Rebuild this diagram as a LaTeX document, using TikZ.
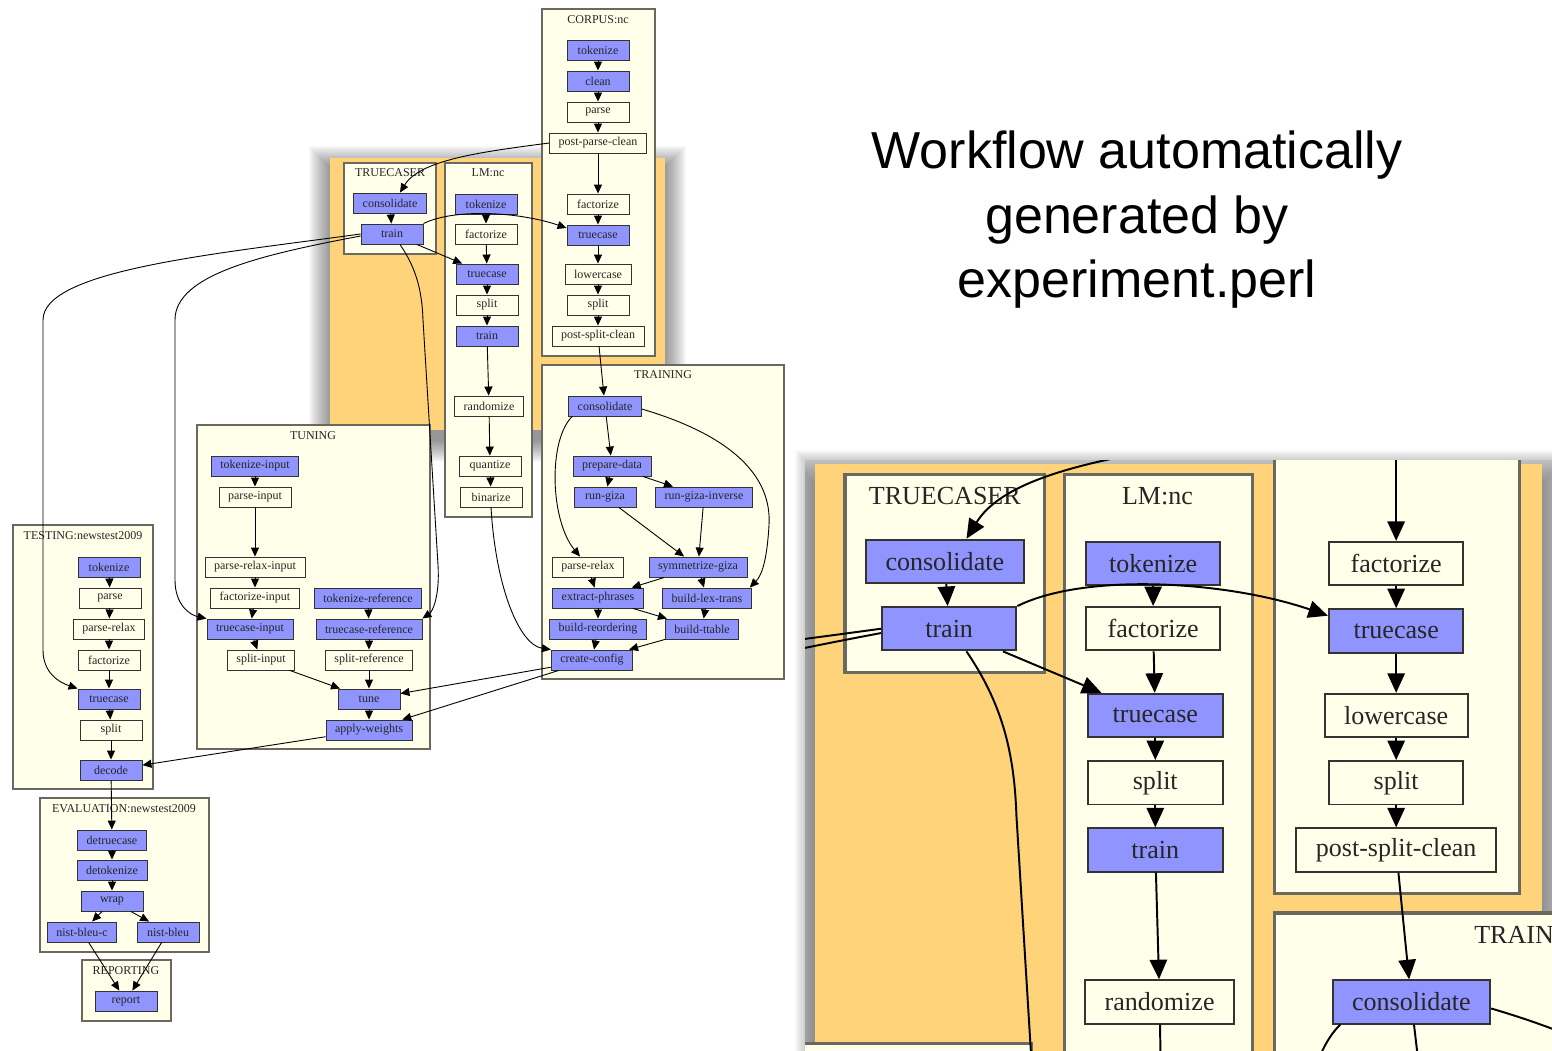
\documentclass[tikz,border=0pt]{standalone}
\usepackage{fontspec}
\setmainfont{Liberation Serif}
\newfontfamily\titlefont{Liberation Sans}
\usetikzlibrary{arrows.meta,spy}

\definecolor{stepblue}{RGB}{143,148,255}
\definecolor{clustercream}{RGB}{255,255,234}
\definecolor{clusterline}{RGB}{105,105,95}
\definecolor{hilite}{RGB}{254,211,122}

\tikzset{
	cluster/.style={draw=clusterline, line width=1.4pt, fill=clustercream},
	clusterlabel/.style={inner sep=0pt, text=black!85, font=\fontsize{12}{13}\selectfont},
	task/.style={draw=black!80, line width=0.9pt, fill=clustercream, minimum height=20pt, text=black!85,
		minimum width=62pt, inner xsep=9pt, inner ysep=0pt, font=\fontsize{12}{13}\selectfont},
	donetask/.style={task, fill=stepblue},
	flow/.style={-{Triangle[length=9pt,width=8pt]}, line width=0.9pt}
}

\begin{document}
\begin{tikzpicture}[x=1pt, y=-1pt, spy scope={rectangle, magnification=2.17, width=747pt, height=590pt}]
		\useasboundingbox (0, 0) rectangle (1552, 1050);

		% highlighted part of the graph
		\foreach \r in {1, ..., 22} \fill[black, opacity=0.022] (331-\r, 168-\r) rectangle (664+\r, 440+\r);
		\fill[hilite] (330, 158) rectangle (665, 430);

		\draw[cluster] (542, 9) rectangle (655, 356);
		\draw[cluster] (344, 163) rectangle (436, 254);
		\draw[cluster] (445, 163) rectangle (532, 517);
		\draw[cluster] (542, 365) rectangle (784, 679);
		\draw[cluster] (197, 425) rectangle (430, 749);
		\draw[cluster] (13, 525) rectangle (153, 789);
		\draw[cluster] (40, 798) rectangle (209, 952);
		\draw[cluster] (82, 960) rectangle (171, 1021);
		\node[clusterlabel] (corpus) at (598, 20) {CORPUS:nc};
		\node[clusterlabel] (truecaser) at (390, 173) {TRUECASER};
		\node[clusterlabel] (lm) at (488, 173) {LM:nc};
		\node[clusterlabel] (training) at (663, 375) {TRAINING};
		\node[clusterlabel] (tuning) at (313, 436) {TUNING};
		\node[clusterlabel] (testing) at (83, 536) {TESTING:newstest2009};
		\node[clusterlabel] (evaluation) at (124, 809) {EVALUATION:newstest2009};
		\node[clusterlabel] (reporting) at (126, 971) {REPORTING};

		\node[donetask] (c-tok) at (598, 50) {tokenize};
		\node[donetask] (c-clean) at (598, 81) {clean};
		\node[task] (c-parse) at (598, 112) {parse};
		\node[task] (c-ppc) at (598, 143) {post-parse-clean};
		\node[task] (c-fac) at (598, 204) {factorize};
		\node[donetask] (c-tc) at (598, 235) {truecase};
		\node[task] (c-lc) at (598, 274) {lowercase};
		\node[task] (c-split) at (598, 305) {split};
		\node[task] (c-psc) at (598, 336) {post-split-clean};

		\node[donetask] (t-cons) at (390, 203) {consolidate};
		\node[donetask] (t-train) at (392, 234) {train};

		\node[donetask] (lm-tok) at (486, 204) {tokenize};
		\node[task] (lm-fac) at (486, 234) {factorize};
		\node[donetask] (lm-tc) at (487, 274) {truecase};
		\node[task] (lm-split) at (487, 305) {split};
		\node[donetask] (lm-train) at (487, 336) {train};
		\node[task] (lm-rand) at (489, 406) {randomize};
		\node[task] (lm-quant) at (490, 466) {quantize};
		\node[task] (lm-bin) at (491, 497) {binarize};

		\node[donetask] (tr-cons) at (605, 406) {consolidate};
		\node[donetask] (tr-prep) at (612, 466) {prepare-data};
		\node[donetask] (tr-giza) at (605, 497) {run-giza};
		\node[donetask] (tr-gizainv) at (704, 497) {run-giza-inverse};
		\node[task] (tr-relax) at (588, 567) {parse-relax};
		\node[donetask] (tr-sym) at (698, 567) {symmetrize-giza};
		\node[donetask] (tr-extract) at (598, 598) {extract-phrases};
		\node[donetask] (tr-lex) at (707, 598) {build-lex-trans};
		\node[donetask] (tr-reord) at (598, 629) {build-reordering};
		\node[donetask] (tr-ttable) at (702, 629) {build-ttable};
		\node[donetask] (tr-config) at (592, 660) {create-config};

		\node[donetask] (tu-tokin) at (255, 466) {tokenize-input};
		\node[task] (tu-parsein) at (255, 497) {parse-input};
		\node[task] (tu-relaxin) at (255, 567) {parse-relax-input};
		\node[task] (tu-facin) at (255, 598) {factorize-input};
		\node[donetask] (tu-tcin) at (250, 629) {truecase-input};
		\node[task] (tu-splitin) at (261, 660) {split-input};
		\node[donetask] (tu-tokref) at (368, 598) {tokenize-reference};
		\node[donetask] (tu-tcref) at (369, 629) {truecase-reference};
		\node[task] (tu-splitref) at (369, 660) {split-reference};
		\node[donetask] (tu-tune) at (369, 699) {tune};
		\node[donetask] (tu-weights) at (369, 730) {apply-weights};

		\node[donetask] (te-tok) at (109, 567) {tokenize};
		\node[task] (te-parse) at (110, 598) {parse};
		\node[task] (te-relax) at (109, 629) {parse-relax};
		\node[task] (te-fac) at (109, 660) {factorize};
		\node[donetask] (te-tc) at (109, 699) {truecase};
		\node[task] (te-split) at (111, 730) {split};
		\node[donetask] (te-decode) at (111, 770) {decode};

		\node[donetask] (ev-detc) at (112, 840) {detruecase};
		\node[donetask] (ev-detok) at (112, 870) {detokenize};
		\node[donetask] (ev-wrap) at (112, 901) {wrap};
		\node[donetask] (ev-bleuc) at (82, 932) {nist-bleu-c};
		\node[donetask] (ev-bleu) at (168, 932) {nist-bleu};

		\node[donetask] (rep) at (126, 1001) {report};

		\foreach \a/\b in {c-tok/c-clean, c-clean/c-parse, c-parse/c-ppc, c-ppc/c-fac, c-fac/c-tc,
				c-tc/c-lc, c-lc/c-split, c-split/c-psc, t-cons/t-train, t-train/lm-tc,
				lm-tok/lm-fac, lm-fac/lm-tc, lm-tc/lm-split, lm-split/lm-train, lm-train/lm-rand,
				lm-rand/lm-quant, lm-quant/lm-bin, c-psc/tr-cons, tr-cons/tr-prep, tr-prep/tr-giza,
				tr-prep/tr-gizainv, tr-giza/tr-sym, tr-gizainv/tr-sym, tr-relax/tr-extract,
				tr-sym/tr-extract, tr-sym/tr-lex, tr-extract/tr-reord, tr-extract/tr-ttable,
				tr-lex/tr-ttable, tr-reord/tr-config, tr-ttable/tr-config, tr-config/tu-tune,
				tr-config/tu-weights, tu-tokin/tu-parsein, tu-parsein/tu-relaxin, tu-relaxin/tu-facin,
				tu-facin/tu-tcin, tu-tcin/tu-splitin, tu-splitin/tu-tune, tu-tokref/tu-tcref,
				tu-tcref/tu-splitref, tu-splitref/tu-tune, tu-tune/tu-weights, tu-weights/te-decode,
				te-tok/te-parse, te-parse/te-relax, te-relax/te-fac, te-fac/te-tc, te-tc/te-split,
				te-split/te-decode, te-decode/ev-detc, ev-detc/ev-detok, ev-detok/ev-wrap,
				ev-wrap/ev-bleuc, ev-wrap/ev-bleu, ev-bleuc/rep, ev-bleu/rep}
			\draw[flow] (\a) -- (\b);

		\draw[flow] (c-ppc.west) .. controls (480, 152) and (420, 160) .. ([xshift=10pt]t-cons.north);
		\draw[flow] (t-train.north east) .. controls (455, 208) and (520, 212) .. ([yshift=7pt]c-tc.west);
		\draw[flow] (t-train.west) .. controls (215, 254) and (43, 270) .. (43, 320) -- (43, 650)
			.. controls (43, 672) and (58, 682) .. (te-tc.north west);
		\draw[flow] ([yshift=-2pt]t-train.west) .. controls (260, 255) and (175, 275) .. (175, 320) -- (175, 580)
			.. controls (175, 605) and (190, 615) .. (tu-tcin.north west);
		\draw[flow] ([xshift=8pt]t-train.south) .. controls (416, 268) and (422, 290) .. (423, 320) -- (438, 565)
			.. controls (440, 597) and (432, 612) .. (tu-tcref.north east);
		\draw[flow] (lm-bin.south) .. controls (496, 590) and (520, 645) .. (tr-config.north west);
		\draw[flow] ([xshift=4pt]tr-cons.south west) .. controls (548, 440) and (550, 520) .. ([xshift=-8pt]tr-relax.north);
		\draw[flow] ([yshift=-3pt]tr-cons.east) .. controls (730, 435) and (772, 475) .. (769, 525)
			.. controls (767, 560) and (762, 575) .. ([xshift=-2pt]tr-lex.north east);

		\node[align=center, inner sep=0pt, font=\titlefont\fontsize{52}{64.5}\selectfont] (title) at (1137, 220)
			{Workflow automatically\\generated by\\experiment.perl};

		% zoomed copy
		\foreach \r in {1, ..., 10} \fill[black, opacity=0.02] (805-\r, 460-\r) rectangle (1560, 1060);
		\fill[white] (805, 460) rectangle (1552, 1050);
		\spy on (497.7, 292.2) in node at (1178.5, 755);
\end{tikzpicture}
\end{document}
